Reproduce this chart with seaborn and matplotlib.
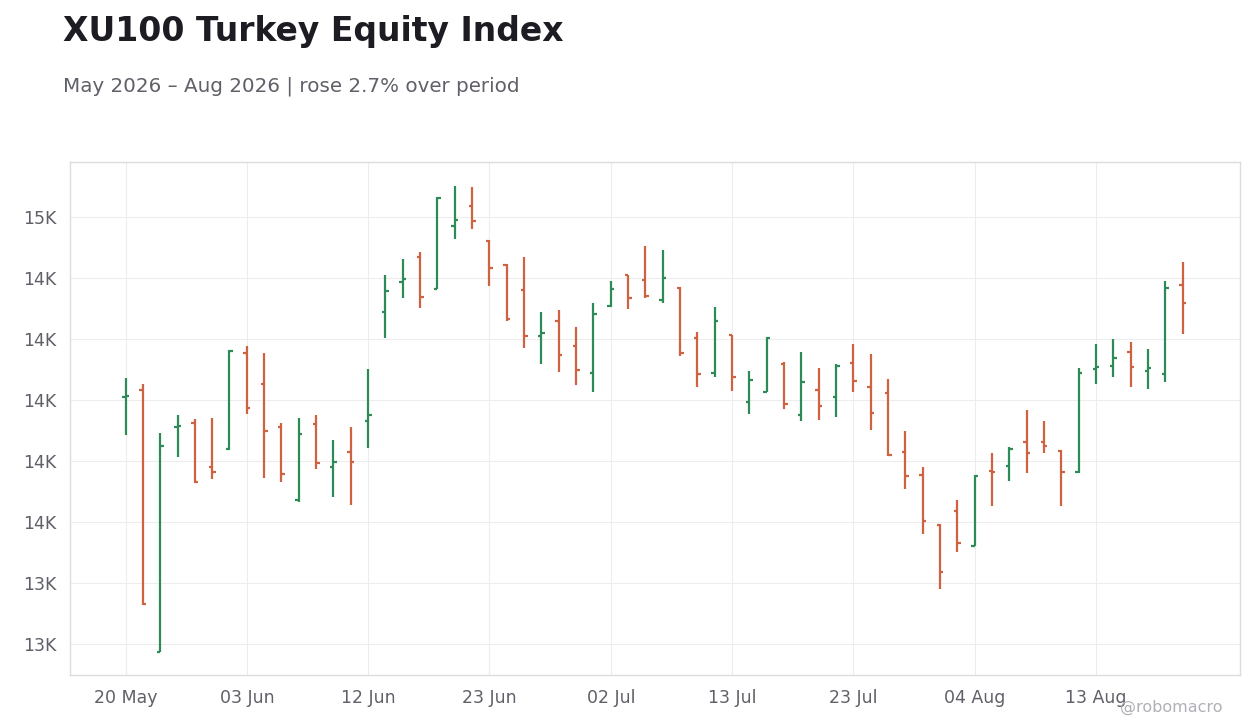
import seaborn as sns
import matplotlib.pyplot as plt
from matplotlib.ticker import FuncFormatter, MultipleLocator

# OHLC values (one row per trading day)
opens = [14012, 14044, 12970, 13892, 13908, 13728, 13801, 14195, 14068, 13892,
         13592, 13904, 13728, 13790, 13917, 14362, 14486, 14589, 14456, 14716,
         14798, 14654, 14556, 14454, 14265, 14326, 14224, 14113, 14388, 14515,
         14494, 14413, 14462, 14255, 14113, 14269, 13995, 14036, 14150, 13941,
         14044, 14015, 14154, 14056, 14031, 13790, 13695, 13490, 13548, 13404,
         13712, 13732, 13831, 13831, 13794, 13706, 14130, 14142, 14199, 14122,
         14109, 14474]
highs = [14092, 14067, 13866, 13940, 13923, 13928, 14206, 14223, 14194, 13906,
         13928, 13940, 13837, 13891, 14128, 14514, 14579, 14608, 14832, 14878,
         14874, 14657, 14557, 14587, 14362, 14370, 14301, 14399, 14489, 14515,
         14632, 14616, 14466, 14279, 14382, 14269, 14120, 14258, 14156, 14198,
         14133, 14149, 14231, 14190, 14087, 13874, 13727, 13493, 13592, 13694,
         13784, 13809, 13960, 13915, 13796, 14133, 14231, 14251, 14239, 14210,
         14489, 14567]
lows = [13858, 13163, 12967, 13769, 13660, 13678, 13796, 13944, 13683, 13665,
        13585, 13720, 13605, 13572, 13806, 14257, 14421, 14380, 14455, 14662,
        14704, 14470, 14326, 14216, 14150, 14117, 14064, 14036, 14384, 14376,
        14421, 14400, 14183, 14056, 14097, 14040, 13945, 14033, 13966, 13917,
        13921, 13933, 14036, 13880, 13773, 13638, 13454, 13228, 13380, 13402,
        13568, 13671, 13704, 13786, 13568, 13704, 14068, 14097, 14056, 14048,
        14076, 14273]
closes = [14018, 13165, 13814, 13895, 13665, 13706, 14204, 13969, 13874, 13698,
          13862, 13743, 13749, 13749, 13941, 14449, 14499, 14425, 14831, 14740,
          14735, 14544, 14333, 14265, 14277, 14187, 14124, 14355, 14458, 14421,
          14428, 14503, 14195, 14109, 14326, 14097, 14085, 14257, 13986, 14076,
          13978, 14142, 14081, 13949, 13776, 13691, 13507, 13298, 13417, 13691,
          13708, 13802, 13786, 13814, 13706, 14113, 14138, 14175, 14138, 14134,
          14462, 14400]

tick_labels = ["20 May", "03 Jun", "12 Jun", "23 Jun", "02 Jul",
               "13 Jul", "23 Jul", "04 Aug", "13 Aug"]

up_color = "#2e8b57"
down_color = "#cf6240"

sns.set_theme(style="whitegrid")
plt.rcParams['font.family'] = ['DejaVu Sans']

fig, ax = plt.subplots(figsize=(12.6, 7.28), dpi=100)
fig.subplots_adjust(left=0.0556, right=0.984, bottom=0.0728, top=0.7775)

x = list(range(len(opens)))
colors = [up_color if c >= o else down_color for o, c in zip(opens, closes)]
tw = 0.2

ax.vlines(x, lows, highs, colors=colors, linewidth=1.6)
ax.hlines(opens, [i - tw for i in x], x, colors=colors, linewidth=1.6)
ax.hlines(closes, x, [i + tw for i in x], colors=colors, linewidth=1.6)

ax.set_xlim(-3.2, 64.3)
ax.set_ylim(12874, 14977)
ax.set_xticks(x[::7][:len(tick_labels)])
ax.set_xticklabels(tick_labels)
ax.yaxis.set_major_locator(MultipleLocator(250))
ax.yaxis.set_major_formatter(FuncFormatter(lambda v, p: f"{v / 1000:.0f}K"))

ax.grid(True, color="#ededed", linewidth=0.8)
for s in ax.spines.values():
    s.set_color("#dcdcdc")
    s.set_linewidth(1)
ax.tick_params(axis="both", colors="#5f6068", labelsize=12.5, length=4,
               width=1, pad=6)

fig.text(0.05, 0.979, "XU100 Turkey Equity Index", fontsize=23.8,
         fontweight="bold", color="#1c1c22", va="top")
fig.text(0.05, 0.895, "May 2026 \u2013 Aug 2026 | rose 2.7% over period",
         fontsize=14.3, color="#5f6068", va="top")
fig.text(0.97, 0.018, "@robomacro", fontsize=11.5, color="#b0b0b8",
         ha="right", va="bottom")

fig.savefig("out.png", dpi=100)
